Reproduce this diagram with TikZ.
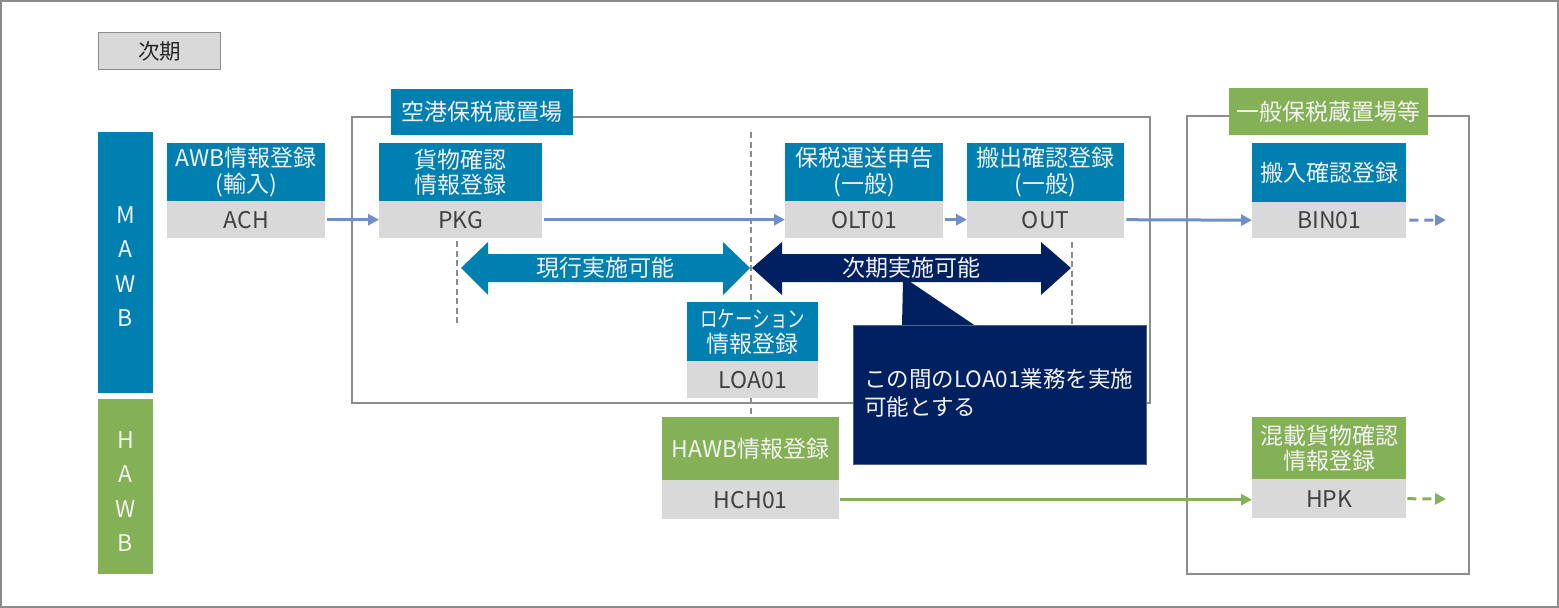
\documentclass[tikz,border=0pt]{standalone}
\usepackage{fontspec}
\usepackage{graphicx}
\setmainfont{Noto Sans CJK JP}
\usetikzlibrary{arrows.meta}
\definecolor{mblue}{RGB}{0,127,177}
\definecolor{mgreen}{RGB}{132,177,86}
\definecolor{mnavy}{RGB}{0,32,96}
\definecolor{mgray}{RGB}{217,217,217}
\definecolor{mframe}{RGB}{140,140,140}
\definecolor{mline}{RGB}{112,142,200}
\definecolor{mgline}{RGB}{132,177,86}
\definecolor{mtext}{RGB}{64,64,64}
\definecolor{mwhite}{RGB}{242,242,242}
\tikzset{
  jfont/.style={font=\fontsize{23}{25.5}\selectfont},
  headbox/.style={jfont, text=mwhite, inner sep=0pt, align=center, anchor=north west},
  bluehead/.style={headbox, fill=mblue},
  greenhead/.style={headbox, fill=mgreen},
  codebox/.style={fill=mgray, text=mtext, inner sep=0pt, anchor=north west, font=\fontsize{23}{25}\selectfont},
  flow/.style={draw=mline, line width=3pt, -{Triangle[length=11pt,width=11pt]}},
  gflow/.style={draw=mgline, line width=3pt, -{Triangle[length=11pt,width=11pt]}},
  dflow/.style={flow, dash pattern=on 9pt off 6pt},
  dgflow/.style={gflow, dash pattern=on 9pt off 6pt},
  frameline/.style={draw=mframe, line width=1.4pt},
  guide/.style={draw=mframe, line width=2.6pt, dash pattern=on 6pt off 3.5pt},
  framelabel/.style={jfont, text=mwhite, inner sep=0pt, anchor=north west},
}
\begin{document}
\begin{tikzpicture}[x=1pt,y=-1pt]
\useasboundingbox (0,0) rectangle (1559,608);
\draw[draw=mframe, line width=1.6pt] (0.8,0.8) rectangle (1558.2,607.2);

% phase label
\node[fill=mgray, draw=mframe, line width=1pt, text=black!85, minimum width=122pt, minimum height=37pt, inner sep=0pt, anchor=north west, font=\fontsize{21.5}{24}\selectfont] (phase) at (98,32) {次期};

% side bars
\node[fill=mblue, minimum width=55pt, minimum height=261pt, inner sep=0pt, anchor=north west] (mawb) at (98,132) {};
\node[text=mwhite, align=center, font=\fontsize{23}{34.4}\selectfont] (mawbt) at (125.5,266.5) {M\\A\\W\\B};
\node[fill=mgreen, minimum width=55pt, minimum height=175pt, inner sep=0pt, anchor=north west] (hawb) at (98,399) {};
\node[text=mwhite, align=center, font=\fontsize{23}{34.4}\selectfont] (hawbt) at (125.5,491.5) {H\\A\\W\\B};

% frames
\draw[frameline] (352,117) rectangle (1150,403);
\node[framelabel, fill=mblue, minimum width=182pt, minimum height=46pt] (airport) at (391,89) {空港保税蔵置場};
\draw[frameline] (1187,116) rectangle (1469,574);
\node[framelabel, fill=mgreen, minimum width=199pt, minimum height=47pt] (general) at (1229,88) {一般保税蔵置場等};

% guide lines
\coordinate (g1a) at (457,241); \coordinate (g1b) at (457,325);
\coordinate (g2a) at (751,132); \coordinate (g2b) at (751,417);
\coordinate (g3a) at (1072,242); \coordinate (g3b) at (1072,325);
\draw[guide] (g1a) -- (g1b);
\draw[guide] (g2a) -- (g2b);
\draw[guide] (g3a) -- (g3b);

% process boxes
\node[bluehead, minimum width=158pt, minimum height=58pt] (achT) at (167,143) {AWB情報登録\\(輸入)};
\node[codebox, minimum width=158pt, minimum height=37pt] (ach) at (167,201) {ACH};

\node[bluehead, minimum width=163pt, minimum height=58pt] (pkgT) at (379,143) {貨物確認\\情報登録};
\node[codebox, minimum width=163pt, minimum height=37pt] (pkg) at (379,201) {PKG};

\node[bluehead, minimum width=158pt, minimum height=58pt] (oltT) at (785,143) {保税運送申告\\(一般)};
\node[codebox, minimum width=158pt, minimum height=37pt] (olt) at (785,201) {OLT01};

\node[bluehead, minimum width=157pt, minimum height=58pt] (outT) at (967,143) {搬出確認登録\\(一般)};
\node[codebox, minimum width=157pt, minimum height=37pt] (out) at (967,201) {OUT};

\node[bluehead, minimum width=154pt, minimum height=59pt] (binT) at (1252,143) {搬入確認登録};
\node[codebox, minimum width=154pt, minimum height=36pt] (bin) at (1252,202) {BIN01};

\node[bluehead, minimum width=131pt, minimum height=59pt, text width=131pt] (loaT) at (687,302) {\scalebox{0.76}[1]{ロケーション}\\情報登録};
\node[codebox, minimum width=131pt, minimum height=37pt] (loa) at (687,361) {LOA01};

\node[greenhead, minimum width=177pt, minimum height=63pt] (hchT) at (662,417) {HAWB情報登録};
\node[codebox, minimum width=177pt, minimum height=39pt] (hch) at (662,480) {HCH01};

\node[greenhead, minimum width=154pt, minimum height=62pt] (hpkT) at (1252,417) {混載貨物確認\\情報登録};
\node[codebox, minimum width=154pt, minimum height=39pt] (hpk) at (1252,479) {HPK};

% flow connectors
\coordinate (binend) at (1446,220);
\coordinate (hpkend) at (1446,499);
\draw[flow] (ach.east) ++(2,0) -- (pkg.west);
\draw[flow] (pkg.east) ++(2,0) -- (olt.west);
\draw[flow] (olt.east) ++(2,0) -- (out.west);
\draw[flow] (out.east) ++(2,0) -- (bin.west);
\draw[dflow] (bin.east) ++(3,0) -- (binend);
\draw[gflow] (hch.east) ++(1,0) -- (hpk.west |- hch.east);
\draw[dgflow] (hpk.east) ++(1,0) -- (hpkend);

% double arrows
\fill[mblue] (461,268) -- (488,242) -- (488,254) -- (723,254) -- (723,242) -- (750,268) -- (723,295) -- (723,282) -- (488,282) -- (488,295) -- cycle;
\node[jfont, text=mwhite] (now) at (605,268) {現行実施可能};
\fill[mnavy] (752,268) -- (782,242) -- (782,254) -- (1041,254) -- (1041,242) -- (1071,268) -- (1041,295) -- (1041,282) -- (782,282) -- (782,295) -- cycle;
\node[jfont, text=mwhite] (next) at (911,268) {次期実施可能};

% callout
\fill[mnavy] (903,281) -- (909,281) -- (975,325.5) -- (902,325.5) -- cycle;
\node[fill=mnavy, draw=mnavy!70!white, line width=0.8pt, minimum width=293pt, minimum height=139pt, inner sep=0pt, anchor=north west] (callout) at (853,325) {};
\node[text=mwhite, align=left, anchor=north west, inner sep=0pt, font=\fontsize{22.5}{28}\selectfont] (callouttext) at (864,368) {この間のLOA01業務を実施\\可能とする};
\end{tikzpicture}
\end{document}
